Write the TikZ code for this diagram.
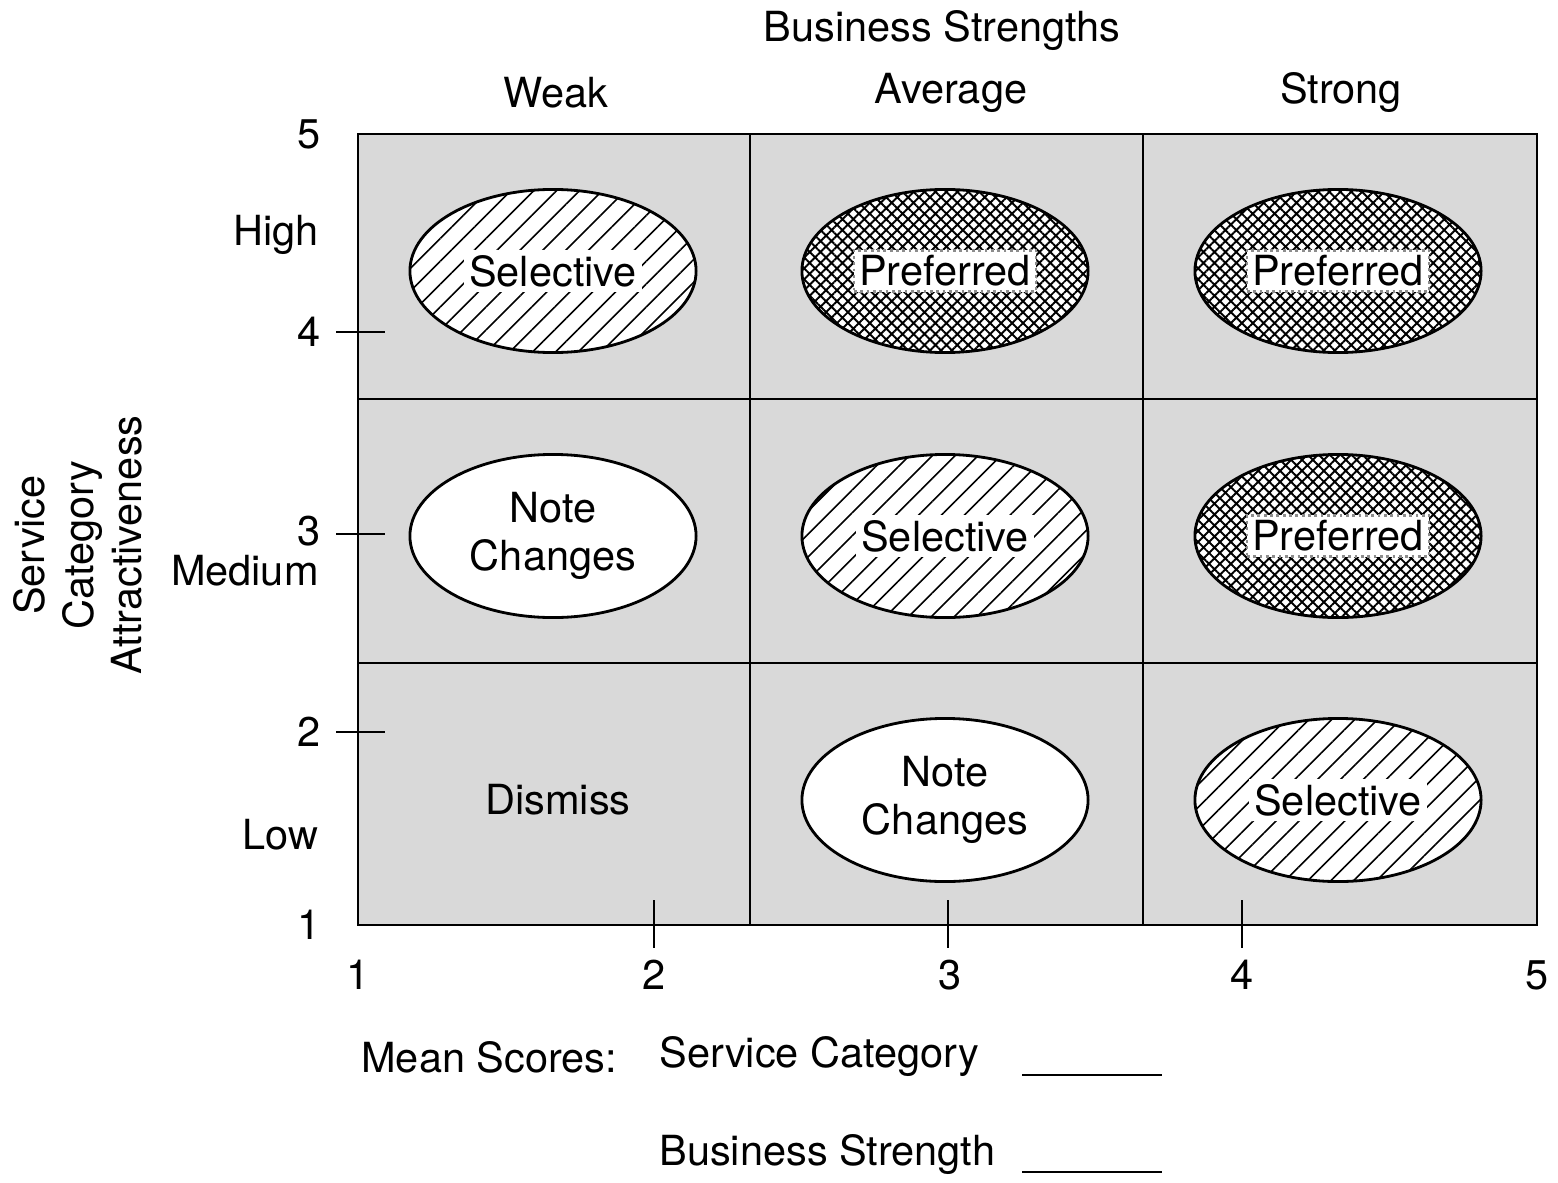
\documentclass[tikz,border=0pt]{standalone}
\usepackage{fontspec}
\setmainfont{TeX Gyre Heros}
\usetikzlibrary{shapes.geometric,patterns.meta}

\begin{document}
\begin{tikzpicture}[x=0.01cm,y=-0.01cm,thick,
	font=\fontsize{11.8}{13.8}\selectfont,
	cell/.style={fill=black!15},
	oval/.style={ellipse,draw,thick,minimum width=2.86cm,minimum height=1.63cm,
		align=center,inner sep=0pt,fill=white},
	sel/.style={oval,postaction={pattern={Lines[angle=45,distance=4.6pt,line width=0.45pt]}}},
	pref/.style={oval,postaction={pattern={Hatch[angle=45,distance=2.2pt,line width=0.55pt]}}},
	gap/.style={fill=white,inner sep=1.5pt},
	tag/.style={gap,draw=black!45,densely dotted},
	lbl/.style={anchor=east,inner sep=0pt},
	txt/.style={anchor=west,inner sep=0pt}]
	\useasboundingbox (0,0) rectangle (1558,1182);
	% cells
	\foreach \X/\XX in {358/750,750/1143,1143/1537}
	{\foreach \Y/\YY in {134/399,399/663,663/925}
		{\fill[cell] (\X,\Y) rectangle (\XX,\YY);}}
	\draw (358,134) rectangle (1537,925);
	\foreach \X in {750,1143}
	{\draw (\X,134) -- (\X,925);}
	\foreach \Y in {399,663}
	{\draw (358,\Y) -- (1537,\Y);}
	% ticks
	\foreach \Y in {332,534,732}
	{\draw (336,\Y) -- (385,\Y);}
	\foreach \X in {654,948,1242}
	{\draw (\X,900) -- (\X,948);}
	% axis numbers
	\foreach \Y/\V in {134/5,332/4,531/3,732/2,925/1}
	{\node[lbl] (y\V) at (322,\Y) {\V};}
	\foreach \X/\V in {358/1,654/2,950/3,1242/4,1537/5}
	{\node (x\V) at (\X,975) {\V};}
	\node[lbl] (high) at (320,235) {High};
	\node[lbl] (medium) at (320,571) {Medium};
	\node[lbl] (low) at (320,835) {Low};
	% headings
	\node (title) at (942,31) {Business Strengths};
	\node (weak) at (556,93) {Weak};
	\node (average) at (951,93) {Average};
	\node (strong) at (1341,93) {Strong};
	\node[rotate=90,align=center] (attr) at (78,545) {Service\\Category\\Attractiveness};
	% ovals
	\foreach \X/\Y [count=\Z] in {553/271,945/536,1338/800}
	{
		\node[sel] (s\Z) at (\X,\Y) {};
		\node[gap] (w\Z) at (s\Z) {Selective};
	}
	\foreach \X/\Y [count=\Z] in {945/271,1338/271,1338/536}
	{
		\node[pref] (p\Z) at (\X,\Y) {};
		\node[tag] (t\Z) at (p\Z) {Preferred};
	}
	\node[oval] (n1) at (553,536) {Note\\Changes};
	\node[oval] (n2) at (945,800) {Note\\Changes};
	\node (dismiss) at (558,800) {Dismiss};
	% mean scores
	\node[txt] (mean) at (360,1057) {Mean Scores:};
	\node[txt] (svc) at (658,1057) {Service Category};
	\node[txt] (bus) at (658,1155) {Business Strength};
	\coordinate (u1) at (1022,1075);
	\coordinate (u2) at (1022,1172);
	\draw[semithick] (u1) -- ++(140,0);
	\draw[semithick] (u2) -- ++(140,0);
\end{tikzpicture}
\end{document}
